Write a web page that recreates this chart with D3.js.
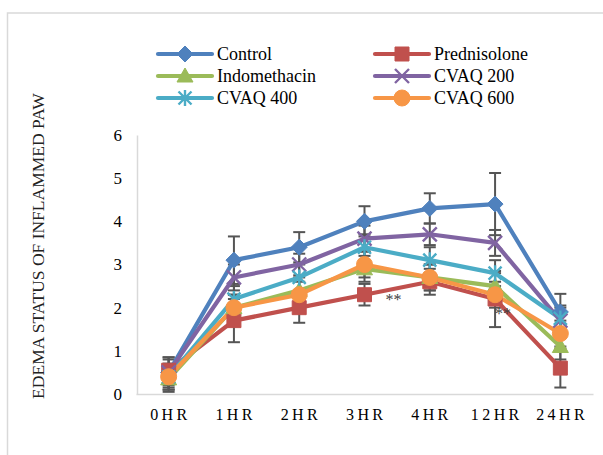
<!DOCTYPE html>
<html>
<head>
<meta charset="utf-8">
<script src="https://cdn.jsdelivr.net/npm/d3@7"></script>
<style>
  body { margin: 0; background: #fff; }
</style>
</head>
<body>
<div id="chart"></div>
<script>
// time points on the x axis
var categories = ["0HR", "1HR", "2HR", "3HR", "4HR", "12HR", "24HR"];
var yTicks = [0, 1, 2, 3, 4, 5, 6];

// mean values
var control      = [0.5, 3.1, 3.4, 4.0, 4.3, 4.4, 1.9];
var prednisolone = [0.55, 1.7, 2.0, 2.3, 2.6, 2.2, 0.6];
var indomethacin = [0.35, 2.0, 2.4, 2.9, 2.7, 2.5, 1.1];
var cvaq200      = [0.5, 2.7, 3.0, 3.6, 3.7, 3.5, 1.7];
var cvaq400      = [0.4, 2.2, 2.7, 3.4, 3.1, 2.8, 1.75];
var cvaq600      = [0.4, 2.0, 2.3, 3.0, 2.7, 2.3, 1.4];

// error bar sizes (+/-)
var controlErr      = [0.35, 0.55, 0.35, 0.35, 0.35, 0.72, 0.42];
var prednisoloneErr = [0.3, 0.5, 0.35, 0.25, 0.3, 0.65, 0.45];
var indomethacinErr = [0.3, 0.3, 0.3, 0.3, 0.3, 0.3, 0.3];
var cvaq200Err      = [0.3, 0.3, 0.25, 0.3, 0.25, 0.3, 0.3];
var cvaq400Err      = [0.3, 0.3, 0.3, 0.3, 0.3, 0.3, 0.3];
var cvaq600Err      = [0.3, 0.3, 0.3, 0.3, 0.3, 0.3, 0.3];

// significance marks: category and the value at the text baseline
var sigCategories = ["3HR", "12HR"];
var sigValues = [2.06, 1.74];

var series = [
    { name: "Control",      values: control,      err: controlErr,      color: "#4F81BD", marker: "diamond" },
    { name: "Prednisolone", values: prednisolone, err: prednisoloneErr, color: "#C0504D", marker: "square" },
    { name: "Indomethacin", values: indomethacin, err: indomethacinErr, color: "#9BBB59", marker: "triangle" },
    { name: "CVAQ 200",     values: cvaq200,      err: cvaq200Err,      color: "#8064A2", marker: "x" },
    { name: "CVAQ 400",     values: cvaq400,      err: cvaq400Err,      color: "#4BACC6", marker: "star" },
    { name: "CVAQ 600",     values: cvaq600,      err: cvaq600Err,      color: "#F79646", marker: "circle" }
];

var width = 603, height = 455;
var plot = { left: 136, right: 593, top: 135, bottom: 394 };
var serif = "'Liberation Serif', 'Times New Roman', serif";

var svg = d3.select("#chart").append("svg")
    .attr("width", width)
    .attr("height", height)
    .attr("font-family", serif)
    .style("display", "block");

// chart area border (only left and top are inside the picture)
svg.append("rect")
    .attr("x", 7.5).attr("y", 13)
    .attr("width", 700).attr("height", 600)
    .attr("fill", "none")
    .attr("stroke", "#D9D9D9")
    .attr("stroke-width", 1.5);

var x = d3.scaleBand().domain(categories).range([plot.left, plot.right]);
var y = d3.scaleLinear().domain([0, 6]).range([plot.bottom, plot.top]);
var cx = function(c) { return x(c) + x.bandwidth() / 2; };

// axes
var xAxis = svg.append("g").attr("transform", "translate(0," + plot.bottom + ")")
    .call(d3.axisBottom(x).tickSize(0).tickPadding(15));
xAxis.attr("font-family", serif);
xAxis.select(".domain").attr("stroke", "#D9D9D9").attr("stroke-width", 1.5);
xAxis.selectAll("text")
    .attr("font-size", 16)
    .attr("fill", "#000")
    .style("letter-spacing", "3.4px")
    .attr("dx", "1.7px");

var yAxis = svg.append("g").attr("transform", "translate(" + (plot.left + 1) + ",0)")
    .call(d3.axisLeft(y).tickValues(yTicks).tickSize(0).tickPadding(15).tickFormat(d3.format("d")));
yAxis.attr("font-family", serif);
yAxis.select(".domain").attr("stroke", "#D9D9D9").attr("stroke-width", 1.5);
yAxis.selectAll("text")
    .attr("font-size", 17)
    .attr("fill", "#000");

// y axis title
svg.append("text")
    .attr("transform", "translate(44,246) rotate(-90)")
    .attr("text-anchor", "middle")
    .attr("font-size", 17.5)
    .attr("fill", "#222")
    .text("EDEMA STATUS OF INFLAMMED PAW");

// marker shapes
function markerPath(type) {
    var p = d3.path();
    if (type === "diamond") {
        var r = 8;
        p.moveTo(0, -r); p.lineTo(r, 0); p.lineTo(0, r); p.lineTo(-r, 0); p.closePath();
        return p.toString();
    }
    if (type === "square") {
        var s = 7;
        p.rect(-s, -s, 2 * s, 2 * s);
        return p.toString();
    }
    if (type === "triangle") {
        p.moveTo(0, -8); p.lineTo(8, 6); p.lineTo(-8, 6); p.closePath();
        return p.toString();
    }
    if (type === "circle") {
        p.arc(0, 0, 8, 0, 2 * Math.PI);
        return p.toString();
    }
    if (type === "x") {
        var a = 7;
        p.moveTo(-a, -a); p.lineTo(a, a); p.moveTo(a, -a); p.lineTo(-a, a);
        return p.toString();
    }
    // star = x plus a vertical stroke
    var b = 6.5;
    p.moveTo(-b, -b); p.lineTo(b, b); p.moveTo(b, -b); p.lineTo(-b, b);
    p.moveTo(0, -8); p.lineTo(0, 8);
    return p.toString();
}
function isStroked(type) { return type === "x" || type === "star"; }

var errColor = "#555555";

// error bars
series.forEach(function(s) {
    var g = svg.append("g").attr("class", "errors");
    categories.forEach(function(c, i) {
        var hi = y(s.values[i] + s.err[i]), lo = y(Math.max(0, s.values[i] - s.err[i]));
        g.append("line").attr("x1", cx(c)).attr("x2", cx(c)).attr("y1", hi).attr("y2", lo)
            .attr("stroke", errColor).attr("stroke-width", 2);
        [hi, lo].forEach(function(v) {
            g.append("line").attr("x1", cx(c) - 6).attr("x2", cx(c) + 6).attr("y1", v).attr("y2", v)
                .attr("stroke", errColor).attr("stroke-width", 2);
        });
    });
});

// lines
var line = d3.line()
    .x(function(d, i) { return cx(categories[i]); })
    .y(function(d) { return y(d); });

series.forEach(function(s) {
    svg.append("path")
        .datum(s.values)
        .attr("fill", "none")
        .attr("stroke", s.color)
        .attr("stroke-width", 4.2)
        .attr("stroke-linejoin", "round")
        .attr("stroke-linecap", "round")
        .attr("d", line);
});

// markers
series.forEach(function(s) {
    svg.append("g").selectAll("path")
        .data(s.values)
        .enter().append("path")
        .attr("transform", function(d, i) { return "translate(" + cx(categories[i]) + "," + y(d) + ")"; })
        .attr("d", markerPath(s.marker))
        .attr("fill", isStroked(s.marker) ? "none" : s.color)
        .attr("stroke", s.color)
        .attr("stroke-width", isStroked(s.marker) ? 2.4 : 1);
});

// ** marks, shifted right of their point
var sigOffset = [21, 0];
svg.selectAll(".sig")
    .data(sigCategories)
    .enter().append("text")
    .attr("class", "sig")
    .attr("x", function(d, i) { return cx(d) + sigOffset[i]; })
    .attr("y", function(d, i) { return y(sigValues[i]); })
    .attr("font-size", 16)
    .attr("fill", "#404040")
    .text("**");

// legend
var legend = svg.append("g");
series.forEach(function(s, i) {
    var lx = i % 2 === 0 ? 158 : 375,
        ly = 54 + Math.floor(i / 2) * 22;
    var g = legend.append("g").attr("transform", "translate(" + lx + "," + ly + ")");
    g.append("line").attr("x1", 0).attr("x2", 54).attr("y1", 0).attr("y2", 0)
        .attr("stroke", s.color).attr("stroke-width", 4.2).attr("stroke-linecap", "round");
    g.append("path")
        .attr("transform", "translate(27,0)")
        .attr("d", markerPath(s.marker))
        .attr("fill", isStroked(s.marker) ? "none" : s.color)
        .attr("stroke", s.color)
        .attr("stroke-width", isStroked(s.marker) ? 2.4 : 1);
    g.append("text")
        .attr("x", 59).attr("y", 6)
        .attr("font-size", 18)
        .attr("fill", "#000")
        .text(s.name);
});
</script>
</body>
</html>
